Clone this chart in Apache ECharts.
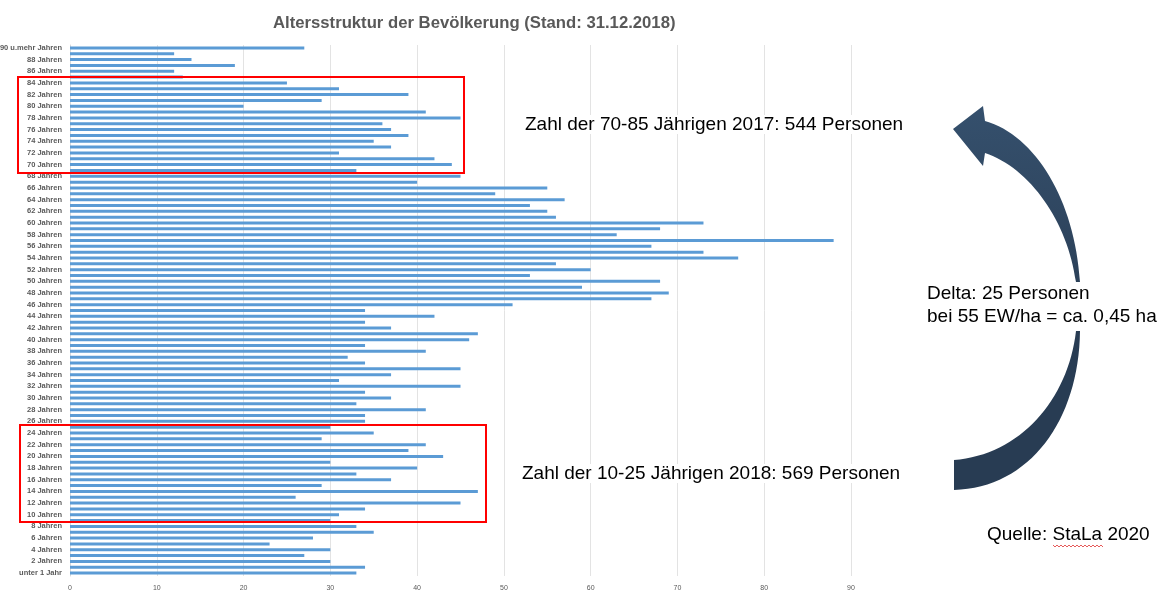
<!DOCTYPE html>
<html>
<head>
<meta charset="utf-8">
<script src="https://cdn.jsdelivr.net/npm/echarts@6/dist/echarts.min.js"></script>
<style>
  html, body { margin: 0; padding: 0; background: #fff; }
  #chart { width: 1159px; height: 590px; }
</style>
</head>
<body>
<div id="chart"></div>
<script>
// Altersgruppen von unten (unter 1 Jahr) nach oben (90 u.mehr Jahren)
var ageLabels = ['unter 1 Jahr', '1 Jahr'];
for (var a = 2; a <= 89; a++) ageLabels.push(a + ' Jahren');
ageLabels.push('90 u.mehr Jahren');

// Einwohner je Altersjahr, Index = Alter
var personen = [
    33, 34, 30, 27, 30, 23, 28, 35, 33, 30,      // 0-9
    31, 34, 45, 26, 47, 29, 37, 33, 40, 30,      // 10-19
    43, 39, 41, 29, 35, 30, 34, 34, 41, 33,      // 20-29
    37, 34, 45, 31, 37, 45, 34, 32, 41, 34,      // 30-39
    46, 47, 37, 34, 42, 34, 51, 67, 69, 59,      // 40-49
    68, 53, 60, 56, 77, 73, 67, 88, 63, 68,      // 50-59
    73, 56, 55, 53, 57, 49, 55, 40, 45, 33,      // 60-69
    44, 42, 31, 37, 35, 39, 37, 36, 45, 41,      // 70-79
    20, 29, 39, 31, 25, 13, 12, 19, 14, 12,      // 80-89
    27                                           // 90+
];

var xTicks = [0, 10, 20, 30, 40, 50, 60, 70, 80, 90];

var chart = echarts.init(document.getElementById('chart'));

var arrowFill = new echarts.graphic.LinearGradient(0, 0, 0, 1, [
    {offset: 0, color: '#35506d'},
    {offset: 1, color: '#2c4159'}
]);

// gebogener Pfeil rechts (Dekoration)
function renderArrow() {
    return {
        type: 'group',
        children: [
            {type: 'path', shape: {
                pathData: 'M953,129 L983,106 L985,121 C1035,135 1075,200 1080,282 L1076,282 C1068,222 1030,168 985,153 L983,166 Z'
            }, style: {fill: arrowFill}},
            {type: 'path', shape: {
                pathData: 'M1080,331 C1079,420 1030,488 954,490 L954,460 C1020,455 1068,400 1076,331 Z'
            }, style: {fill: '#283c53'}}
        ]
    };
}

var noteFont = '19px "Liberation Sans"';

chart.setOption({
    animation: false,
    title: {
        text: 'Altersstruktur der Bevölkerung (Stand: 31.12.2018)',
        left: 268,
        top: 10,
        textStyle: {
            fontFamily: 'Liberation Sans',
            fontWeight: 'bold',
            fontSize: 16.7,
            color: '#595959'
        }
    },
    grid: {
        left: 70,
        right: 308,
        top: 45,
        bottom: 14,
        containLabel: false,
        outerBoundsMode: 'none'
    },
    xAxis: {
        type: 'value',
        min: xTicks[0],
        max: xTicks[xTicks.length - 1],
        interval: 10,
        axisLine: {show: false},
        axisTick: {show: false},
        axisLabel: {
            fontSize: 7,
            color: '#595959',
            margin: 9,
            fontFamily: 'Liberation Sans'
        },
        splitLine: {lineStyle: {color: '#e3e3e3', width: 1}}
    },
    yAxis: {
        type: 'category',
        data: ageLabels,
        axisLine: {lineStyle: {color: '#d9d9d9'}},
        axisTick: {show: false},
        axisLabel: {
            interval: 1,
            fontSize: 7.5,
            fontWeight: 'bold',
            color: '#595959',
            margin: 8,
            fontFamily: 'Liberation Sans'
        }
    },
    series: [{
        name: 'Personen',
        type: 'bar',
        data: personen,
        barWidth: 3,
        itemStyle: {color: '#5b9bd5'}
    }, {
        type: 'custom',
        coordinateSystem: 'none',
        silent: true,
        data: [0],
        renderItem: renderArrow
    }],
    graphic: [
        // rote Markierungen
        {type: 'rect', shape: {x: 18, y: 77, width: 446, height: 96},
            style: {fill: 'none', stroke: '#ff0000', lineWidth: 2}, z: 10},
        {type: 'rect', shape: {x: 20, y: 425, width: 466, height: 97},
            style: {fill: 'none', stroke: '#ff0000', lineWidth: 2}, z: 10},
        {type: 'text', left: 525, top: 115, z: 20, style: {
            text: 'Zahl der 70-85 Jährigen 2017: 544 Personen',
            font: noteFont, fill: '#000', backgroundColor: '#fff'
        }},
        {type: 'text', left: 522, top: 464, z: 20, style: {
            text: 'Zahl der 10-25 Jährigen 2018: 569 Personen',
            font: noteFont, fill: '#000', backgroundColor: '#fff'
        }},
        {type: 'text', left: 927, top: 282, z: 20, style: {
            text: 'Delta: 25 Personen\nbei 55 EW/ha = ca. 0,45 ha',
            font: noteFont, lineHeight: 23, fill: '#000'
        }},
        {type: 'text', left: 987, top: 525, z: 20, style: {
            text: 'Quelle: StaLa 2020',
            font: noteFont, fill: '#000'
        }},
        {type: 'polyline', z: 20, shape: {points: [
            [1053, 545], [1055, 547], [1057, 545], [1059, 547], [1061, 545], [1063, 547], [1065, 545],
            [1067, 547], [1069, 545], [1071, 547], [1073, 545], [1075, 547], [1077, 545], [1079, 547],
            [1081, 545], [1083, 547], [1085, 545], [1087, 547], [1089, 545], [1091, 547], [1093, 545],
            [1095, 547], [1097, 545], [1099, 547], [1101, 545], [1103, 547]
        ]}, style: {stroke: '#e03030', lineWidth: 0.8, fill: 'none'}}
    ]
});
</script>
</body>
</html>
